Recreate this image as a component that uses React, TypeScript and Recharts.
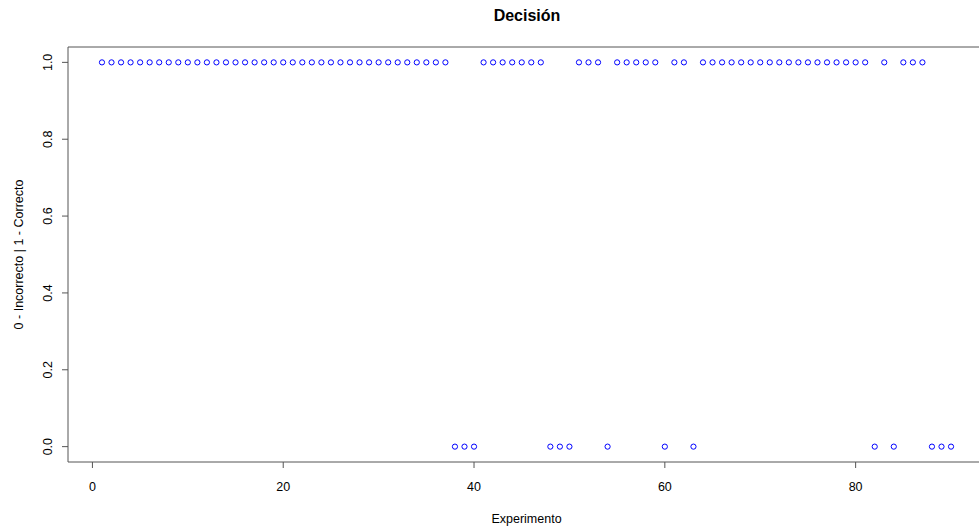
import { ScatterChart, Scatter, XAxis, YAxis, ReferenceArea } from 'recharts'

// 1 = correcto, 0 = incorrecto, experimentos 1..90
const decision = [
  1, 1, 1, 1, 1, 1, 1, 1, 1, 1,
  1, 1, 1, 1, 1, 1, 1, 1, 1, 1,
  1, 1, 1, 1, 1, 1, 1, 1, 1, 1,
  1, 1, 1, 1, 1, 1, 1, 0, 0, 0,
  1, 1, 1, 1, 1, 1, 1, 0, 0, 0,
  1, 1, 1, 0, 1, 1, 1, 1, 1, 0,
  1, 1, 0, 1, 1, 1, 1, 1, 1, 1,
  1, 1, 1, 1, 1, 1, 1, 1, 1, 1,
  1, 0, 1, 0, 1, 1, 1, 0, 0, 0,
]
const xTicks = [0, 20, 40, 60, 80]
const yTicks = [0, 0.2, 0.4, 0.6, 0.8, 1]

const data = decision.map((v, i) => ({ experimento: i + 1, decision: v }))

const font = '"Liberation Sans", Arial, sans-serif'
const axisColor = '#555'

function YTick(props: any) {
  const { x, y, payload } = props
  return (
    <text
      x={x - 10}
      y={y}
      transform={`rotate(-90, ${x - 10}, ${y})`}
      textAnchor="middle"
      fontSize={12.5}
      fontFamily={font}
      fill="#000"
    >
      {Number(payload.value).toFixed(1)}
    </text>
  )
}

function OpenCircle(props: any) {
  const { cx, cy } = props
  return <circle cx={cx} cy={cy} r={2.6} fill="none" stroke="#0000ff" strokeWidth={1} />
}

export default function App() {
  return (
    <div
      style={{
        position: 'absolute',
        left: 0,
        top: 0,
        width: 979,
        height: 529,
        overflow: 'hidden',
        background: '#fff',
      }}
    >
      <div
        style={{
          position: 'absolute',
          left: 427,
          top: 7,
          width: 200,
          textAlign: 'center',
          fontFamily: font,
          fontWeight: 'bold',
          fontSize: 16,
          lineHeight: '18px',
        }}
      >
        Decisión
      </div>
      <ScatterChart width={1000} height={529} margin={{ top: 47, right: 15, bottom: 0, left: 0 }}>
        <XAxis
          type="number"
          dataKey="experimento"
          domain={[-2.56, 93.56]}
          ticks={xTicks}
          allowDataOverflow
          height={67}
          axisLine={false}
          tickSize={6}
          tickMargin={14}
          tickLine={{ stroke: axisColor }}
          tick={{ fill: '#000', fontSize: 12.5, fontFamily: font }}
          label={{
            value: 'Experimento',
            position: 'insideBottom',
            offset: 6,
            style: { fill: '#000', fontSize: 12.5, fontFamily: font },
          }}
        />
        <YAxis
          type="number"
          dataKey="decision"
          domain={[-0.04, 1.04]}
          ticks={yTicks}
          allowDataOverflow
          width={68}
          axisLine={false}
          tickSize={6}
          tickMargin={0}
          tickLine={{ stroke: axisColor }}
          tick={<YTick />}
          label={{
            value: '0 - Incorrecto | 1 - Correcto',
            position: 'insideLeft',
            angle: -90,
            offset: 19,
            style: { fill: '#000', fontSize: 12.5, fontFamily: font, textAnchor: 'middle' },
          }}
        />
        <ReferenceArea
          x1={-2.56}
          x2={93.56}
          y1={-0.04}
          y2={1.04}
          fill="none"
          fillOpacity={0}
          stroke={axisColor}
          strokeWidth={1}
          ifOverflow="visible"
        />
        <Scatter data={data} shape={<OpenCircle />} isAnimationActive={false} />
      </ScatterChart>
    </div>
  )
}
